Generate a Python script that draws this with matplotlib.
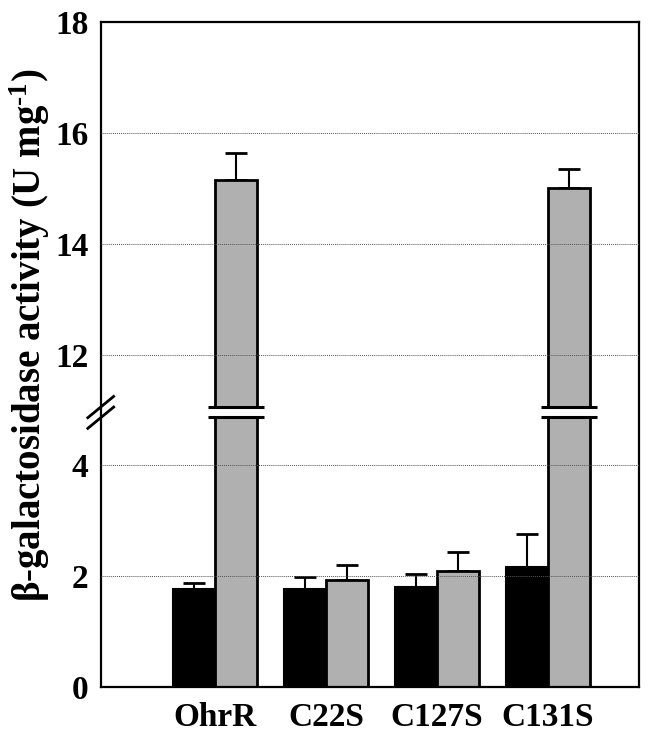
import numpy as np
import matplotlib
matplotlib.use('Agg')
import matplotlib.pyplot as plt

# data
strains = ['OhrR', 'C22S', 'C127S', 'C131S']
black_vals = [1.77, 1.77, 1.80, 2.17]
black_err = [0.11, 0.22, 0.24, 0.60]
gray_vals = [15.15, 1.93, 2.10, 15.00]
gray_err = [0.48, 0.28, 0.33, 0.35]
y_ticks = [0, 2, 4, 12, 14, 16, 18]
grid_levels = [2, 4, 12, 14, 16]

# broken axis: 0-5 then 11-18
low_top, high_bot = 5.0, 11.0
gap = high_bot - low_top

def fwd(y):
    y = np.asarray(y, dtype=float)
    return np.where(y <= low_top, y, np.where(y < high_bot, low_top, y - gap))

def inv(y):
    y = np.asarray(y, dtype=float)
    return np.where(y <= low_top, y, y + gap)

plt.rcParams['font.family'] = ['Liberation Serif', 'DejaVu Serif']
plt.rcParams['font.weight'] = 'bold'
plt.rcParams['mathtext.fontset'] = 'custom'
plt.rcParams['mathtext.rm'] = 'Liberation Serif:bold'
plt.rcParams['mathtext.default'] = 'rm'

fig = plt.figure(figsize=(6.5, 7.34), dpi=100)
ax = fig.add_axes([0.155, 0.064, 0.828, 0.906])
ax.set_yscale('function', functions=(fwd, inv))

x = np.arange(len(strains))
w = 0.38
gray_col = '#b0b0b0'

ax.bar(x - w / 2, black_vals, w, color='black', edgecolor='black', linewidth=1.5, zorder=2)
ax.bar(x + w / 2, gray_vals, w, color=gray_col, edgecolor='black', linewidth=2, zorder=2)
ax.errorbar(x - w / 2, black_vals, yerr=[np.zeros(4), black_err], fmt='none',
            ecolor='black', elinewidth=1.5, capsize=8, capthick=2, zorder=1)
ax.errorbar(x + w / 2, gray_vals, yerr=[np.zeros(4), gray_err], fmt='none',
            ecolor='black', elinewidth=1.5, capsize=8, capthick=2, zorder=1)

for g in grid_levels:
    ax.axhline(g, color='#555555', linestyle=(0, (1, 1)), linewidth=0.7, zorder=3)

# break marks on the tall bars
for xi, v in zip(x + w / 2, gray_vals):
    if v > high_bot:
        x0, x1 = xi - w / 2 - 0.065, xi + w / 2 + 0.065
        ax.fill_between([x0, x1], 4.88, 11.06, color='white', zorder=4, linewidth=0)
        ax.plot([x0, x1], [4.88, 4.88], color='black', lw=2.2, zorder=5, solid_capstyle='butt')
        ax.plot([x0, x1], [11.06, 11.06], color='black', lw=2.2, zorder=5, solid_capstyle='butt')

ax.set_xlim(-1.03, 3.82)
ax.set_ylim(0, 18)
ax.set_yticks(y_ticks)
ax.set_yticklabels([str(t) for t in y_ticks])
ax.set_xticks(x)
ax.set_xticklabels(strains)
ax.tick_params(axis='both', length=0, labelsize=24)
ax.tick_params(axis='y', pad=9)
ax.tick_params(axis='x', pad=11)
for s in ax.spines.values():
    s.set_linewidth(1.6)

# axis break "//" on the left spine
for yc in [0.405, 0.421]:
    ax.plot([-0.024, 0.024], [yc - 0.016, yc + 0.016], transform=ax.transAxes,
            color='black', lw=2, clip_on=False, zorder=6)

fig.text(0.046, 0.543, r'β-galactosidase activity (U mg$^{\text{-1}}$)',
         rotation=90, ha='center', va='center', fontsize=28, fontweight='bold')

fig.savefig('out.png', dpi=100)
